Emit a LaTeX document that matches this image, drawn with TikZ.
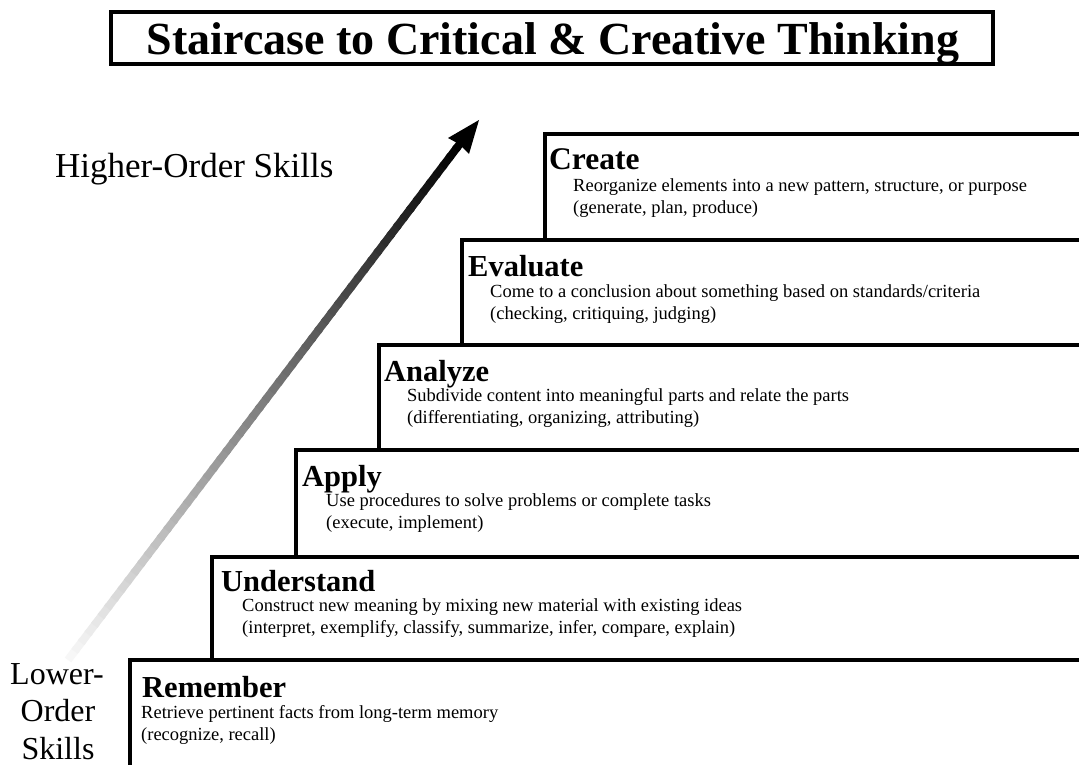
\documentclass[tikz,border=0pt]{standalone}
\usepackage{fontspec}
\setmainfont{Liberation Serif}
\usetikzlibrary{calc}
\begin{document}
\begin{tikzpicture}[x=1pt,y=-1pt,
  frame/.style={draw=black,line width=4pt},
  stepline/.style={draw=black,line width=4.5pt,line join=miter},
  head/.style={inner sep=0pt,anchor=base west,font=\fontsize{30.5}{36}\selectfont\bfseries},
  desc/.style={inner sep=0pt,anchor=base west,font=\fontsize{18.5}{22}\selectfont},
  side/.style={inner sep=0pt,font=\fontsize{35}{40}\selectfont},
  low/.style={inner sep=0pt,anchor=base,font=\fontsize{32}{38}\selectfont}]
\useasboundingbox (0,0) rectangle (1079,765);
\fill[white] (0,0) rectangle (1079,765);

% title
\draw[frame] (111,12) rectangle (993,64);
\node[inner sep=0pt,anchor=base,font=\fontsize{46}{50}\selectfont\bfseries] (title) at (553,55) {Staircase to Critical \& Creative Thinking};

% staircase: each step is open to the right and rests on the step below
\draw[stepline] (545,241) -- (545,134) -- (1100,134);
\draw[stepline] (462,346) -- (462,240) -- (1100,240);
\draw[stepline] (379,451) -- (379,345) -- (1100,345);
\draw[stepline] (296,558) -- (296,450) -- (1100,450);
\draw[stepline] (212,661) -- (212,557) -- (1100,557);
\draw[stepline] (130,780) -- (130,660) -- (1100,660);

% step texts
\node[head,font=\fontsize{31.5}{36}\selectfont\bfseries] (create) at (549,170) {Create};
\node[desc] (create1) at (573,191) {Reorganize elements into a new pattern, structure, or purpose};
\node[desc] (create2) at (573,213) {(generate, plan, produce)};

\node[head] (evaluate) at (468,276) {Evaluate};
\node[desc] (evaluate1) at (490,297) {Come to a conclusion about something based on standards/criteria};
\node[desc] (evaluate2) at (490,319) {(checking, critiquing, judging)};

\node[head] (analyze) at (384,381) {Analyze};
\node[desc] (analyze1) at (407,401) {Subdivide content into meaningful parts and relate the parts};
\node[desc] (analyze2) at (407,423) {(differentiating, organizing, attributing)};

\node[head] (apply) at (302,486) {Apply};
\node[desc] (apply1) at (326,506) {Use procedures to solve problems or complete tasks};
\node[desc] (apply2) at (326,528) {(execute, implement)};

\node[head] (understand) at (221,591) {Understand};
\node[desc] (understand1) at (242,611) {Construct new meaning by mixing new material with existing ideas};
\node[desc] (understand2) at (242,633) {(interpret, exemplify, classify, summarize, infer, compare, explain)};

\node[head] (remember) at (142,697) {Remember};
\node[desc] (remember1) at (141,718) {Retrieve pertinent facts from long-term memory};
\node[desc] (remember2) at (141,740) {(recognize, recall)};

% side labels
\node[side,anchor=base west] (higher) at (55,178) {Higher-Order Skills};
\node[low] (lower1) at (57,684) {Lower-};
\node[low] (lower2) at (58,721) {Order};
\node[low] (lower3) at (58,759) {Skills};

% rising arrow, fading in from the bottom
\coordinate (tail) at (68,660);
\coordinate (neck) at (462,141);
\coordinate (tip) at (479,120);
\foreach \i in {0,...,59}{
  \pgfmathsetmacro{\a}{\i/60}
  \pgfmathsetmacro{\b}{(\i+1.3)/60}
  \pgfmathsetmacro{\shadeval}{3+97*(\i/59)}
  \draw[line width=8pt,color=black!\shadeval!white,line cap=butt]
    ($(tail)!\a!(neck)$) -- ($(tail)!\b!(neck)$);
}
\fill[black] (tip) -- (448,138) -- (459,144) -- (469,154) -- cycle;
\end{tikzpicture}
\end{document}
